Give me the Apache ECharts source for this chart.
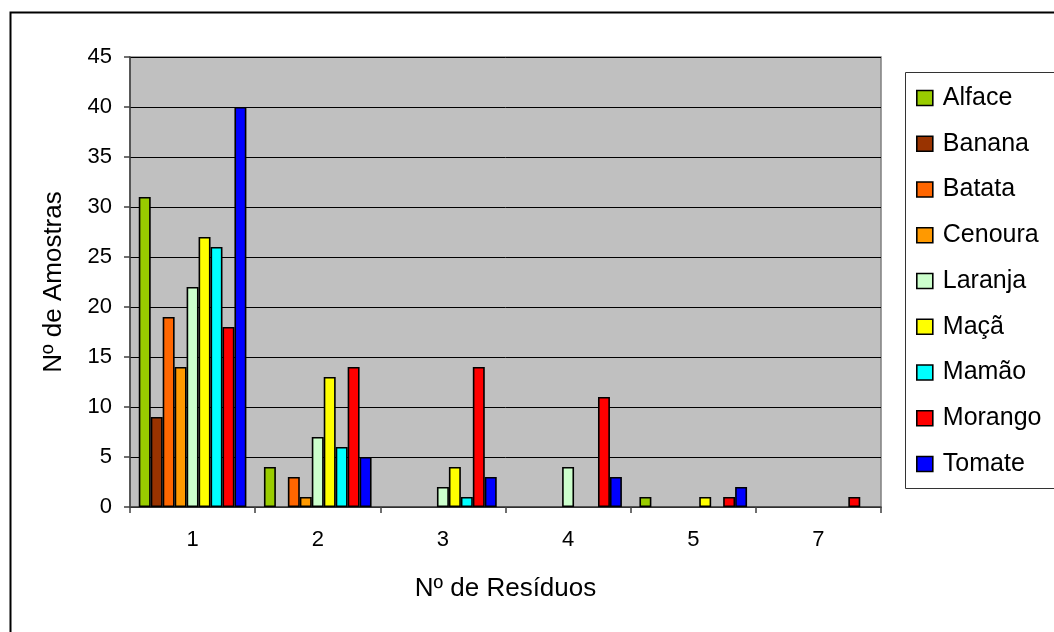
<!DOCTYPE html>
<html>
<head>
<meta charset="utf-8">
<script src="https://cdn.jsdelivr.net/npm/echarts@6/dist/echarts.min.js"></script>
<style>html,body{margin:0;padding:0;background:#fff;}#c{width:1054px;height:632px;}</style>
</head>
<body>
<div id="c"></div>
<script>
var categories = ['1', '2', '3', '4', '5', '7'];
var seriesNames = ['Alface', 'Banana', 'Batata', 'Cenoura', 'Laranja', 'Maçã', 'Mamão', 'Morango', 'Tomate'];
var alface  = [31, 4, 0, 0, 1, 0];
var banana  = [9, 0, 0, 0, 0, 0];
var batata  = [19, 3, 0, 0, 0, 0];
var cenoura = [14, 1, 0, 0, 0, 0];
var laranja = [22, 7, 2, 4, 0, 0];
var maca    = [27, 13, 4, 0, 1, 0];
var mamao   = [26, 6, 1, 0, 0, 0];
var morango = [18, 14, 14, 11, 1, 1];
var tomate  = [40, 5, 3, 3, 2, 0];
var yTicks = [0, 5, 10, 15, 20, 25, 30, 35, 40, 45];

var values = [alface, banana, batata, cenoura, laranja, maca, mamao, morango, tomate];
var colors = ['#99CC00', '#993300', '#FF6600', '#FF9900', '#CCFFCC', '#FFFF00', '#00FFFF', '#FF0000', '#0000FF'];
var font = 'Liberation Sans, Arial, sans-serif';

var chart = echarts.init(document.getElementById('c'), null, {renderer: 'canvas'});
var series = seriesNames.map(function (n, i) {
  return {
    name: n,
    type: 'bar',
    barGap: '0%',
    barCategoryGap: '14%',
    data: values[i].map(function (v) { return v === 0 ? '-' : v; }),
    itemStyle: {color: colors[i], borderColor: '#000', borderWidth: 1.6},
    emphasis: {disabled: true}
  };
});
chart.setOption({
  animation: false,
  backgroundColor: '#fff',
  grid: {left: 130, top: 57, width: 751, height: 450, show: true, backgroundColor: '#C0C0C0', borderColor: '#808080', borderWidth: 1.5},
  legend: {
    orient: 'vertical', left: 916, top: 82.5, padding: 0,
    itemWidth: 16, itemHeight: 15, itemGap: 14.75,
    icon: 'rect',
    textStyle: {fontFamily: font, fontSize: 25, lineHeight: 25, color: '#000', padding: [0, 0, 6, 5]},
    itemStyle: {borderColor: '#000', borderWidth: 1.6},
    data: seriesNames
  },
  graphic: [
    {type: 'rect', silent: true, shape: {x: 10.5, y: 12.5, width: 1100, height: 700}, style: {fill: 'none', stroke: '#000', lineWidth: 2}, z: -1},
    {type: 'rect', silent: true, shape: {x: 905.5, y: 72.5, width: 200, height: 416}, style: {fill: 'none', stroke: '#333', lineWidth: 1}, z: -1}
  ],
  xAxis: {
    type: 'category',
    data: categories,
    name: 'Nº de Resíduos',
    nameLocation: 'middle',
    nameGap: 69,
    nameTextStyle: {fontFamily: font, fontSize: 26, color: '#000'},
    axisLine: {lineStyle: {color: '#404040', width: 1.5}},
    axisTick: {show: true, length: 6, lineStyle: {color: '#404040', width: 1.5}},
    axisLabel: {fontFamily: font, fontSize: 22, color: '#000', margin: 22},
    splitLine: {show: false}
  },
  yAxis: {
    type: 'value',
    min: 0, max: 45, interval: 5,
    name: 'Nº de Amostras',
    nameLocation: 'middle',
    nameGap: 63,
    nameRotate: 90,
    nameTextStyle: {fontFamily: font, fontSize: 26, color: '#000'},
    axisLine: {show: true, lineStyle: {color: '#404040', width: 1.5}},
    axisTick: {show: true, length: 6, lineStyle: {color: '#404040', width: 1.5}},
    axisLabel: {fontFamily: font, fontSize: 22, color: '#000', margin: 18,
      formatter: function (v) { return yTicks.indexOf(v) >= 0 ? String(v) : ''; }},
    splitLine: {show: true, lineStyle: {color: '#000', width: 1}}
  },
  series: series
});
</script>
</body>
</html>
